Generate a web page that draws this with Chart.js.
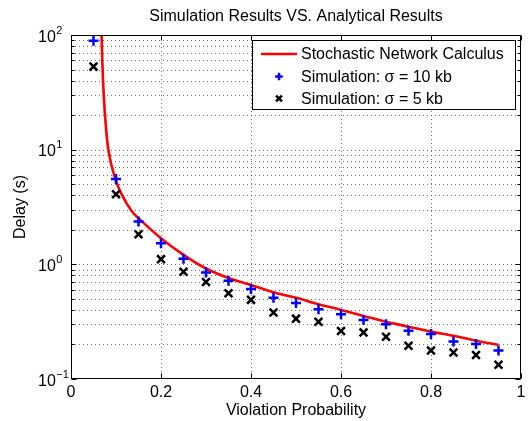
<!DOCTYPE html>
<html>
<head>
<meta charset="utf-8">
<script src="https://cdn.jsdelivr.net/npm/chart.js@4.4.1/dist/chart.umd.min.js"></script>
<style>
html,body{margin:0;padding:0;background:#fff;}
#wrap{width:531px;height:421px;}
</style>
</head>
<body>
<div id="wrap"><canvas id="c" width="531" height="421"></canvas></div>
<script>
// ---- data ----
const titleText = 'Simulation Results VS. Analytical Results';
const xAxisLabel = 'Violation Probability';
const yAxisLabel = 'Delay (s)';
const seriesNames = ['Stochastic Network Calculus', 'Simulation: \u03c3 = 10 kb', 'Simulation: \u03c3 = 5 kb'];

const probs = [0.05, 0.10, 0.15, 0.20, 0.25, 0.30, 0.35, 0.40, 0.45, 0.50,
               0.55, 0.60, 0.65, 0.70, 0.75, 0.80, 0.85, 0.90, 0.95];
const sim10 = [89, 5.55, 2.36, 1.53, 1.12, 0.85, 0.72, 0.61, 0.51, 0.46,
               0.406, 0.367, 0.327, 0.30, 0.264, 0.247, 0.212, 0.202, 0.177];
const sim5  = [53, 4.08, 1.83, 1.11, 0.86, 0.70, 0.56, 0.49, 0.38, 0.336,
               0.316, 0.262, 0.255, 0.234, 0.195, 0.177, 0.170, 0.162, 0.133];

const calcX = [0.068, 0.0696, 0.0727, 0.0778, 0.083, 0.099, 0.113, 0.135, 0.157, 0.20,
               0.25, 0.30, 0.35, 0.40, 0.45, 0.50, 0.55, 0.60, 0.65, 0.70, 0.75, 0.80, 0.85, 0.90, 0.95];
const calcY = [100, 59, 30.2, 15.5, 10, 5.47, 4.05, 2.90, 2.38, 1.69,
               1.21, 0.92, 0.76, 0.66, 0.57, 0.51, 0.449, 0.40, 0.355, 0.316, 0.286, 0.259, 0.238, 0.216, 0.198];

const xTicks = [0, 0.2, 0.4, 0.6, 0.8, 1];
const xTickLabels = ['0', '0.2', '0.4', '0.6', '0.8', '1'];
const yDecades = [0.1, 1, 10, 100];
const yExponents = ['\u22121', '0', '1', '2'];

// ---- helpers ----
const FONT = "'Liberation Sans', Arial, Helvetica, sans-serif";
const xMin = 0, xMax = 1, yMin = 0.1, yMax = 100;
const yGridValues = [];
for (let i = 0; i < yDecades.length - 1; i++) {
  for (let m = 1; m <= 9; m++) yGridValues.push(yDecades[i] * m);
}
yGridValues.push(yDecades[yDecades.length - 1]);

const toXY = (xs, ys) => xs.map((v, i) => ({x: v, y: ys[i]}));

const axesPlugin = {
  id: 'matlabAxes',
  beforeDatasetsDraw(chart) {
    const {ctx, chartArea: a, scales: {x, y}} = chart;
    ctx.save();
    ctx.strokeStyle = 'rgba(0,0,0,0.55)';
    ctx.lineWidth = 1;
    ctx.setLineDash([1, 3]);
    xTicks.forEach(v => {
      if (v <= xMin || v >= xMax) return;
      const px = Math.round(x.getPixelForValue(v)) + 0.5;
      ctx.beginPath(); ctx.moveTo(px, a.top); ctx.lineTo(px, a.bottom); ctx.stroke();
    });
    yGridValues.forEach(v => {
      if (v <= yMin * 1.0001 || v >= yMax * 0.9999) return;
      const py = Math.round(y.getPixelForValue(v)) + 0.5;
      ctx.beginPath(); ctx.moveTo(a.left, py); ctx.lineTo(a.right, py); ctx.stroke();
    });
    ctx.restore();
  },
  afterDatasetsDraw(chart) {
    const {ctx, chartArea: a, scales: {x, y}} = chart;
    const L = Math.round(a.left) + 0.5, R = Math.round(a.right) - 0.5;
    const T = Math.round(a.top) + 0.5, B = Math.round(a.bottom) - 0.5;
    ctx.save();
    ctx.strokeStyle = '#000';
    ctx.lineWidth = 1;
    ctx.setLineDash([]);
    ctx.strokeRect(L, T, R - L, B - T);
    // tick marks (inside)
    ctx.beginPath();
    xTicks.forEach(v => {
      const px = Math.round(x.getPixelForValue(v)) + 0.5;
      ctx.moveTo(px, B); ctx.lineTo(px, B - 5);
      ctx.moveTo(px, T); ctx.lineTo(px, T + 5);
    });
    yGridValues.forEach(v => {
      const major = yDecades.some(d => Math.abs(d - v) / d < 1e-6);
      const len = major ? 5 : 3;
      const py = Math.round(y.getPixelForValue(v)) + 0.5;
      ctx.moveTo(L, py); ctx.lineTo(L + len, py);
      ctx.moveTo(R, py); ctx.lineTo(R - len, py);
    });
    ctx.stroke();
    // y tick labels 10^n
    ctx.fillStyle = '#000';
    ctx.textAlign = 'left';
    ctx.textBaseline = 'alphabetic';
    yDecades.forEach((d, i) => {
      const py = y.getPixelForValue(d);
      ctx.font = '16px ' + FONT;
      const baseX = 38;
      ctx.fillText('10', baseX, py + 6.5);
      const w = ctx.measureText('10').width;
      ctx.font = '11px ' + FONT;
      ctx.fillText(yExponents[i], baseX + w + 0.5, py - 1.5);
    });
    // title centred over the axes
    ctx.font = '16px ' + FONT;
    ctx.textAlign = 'center';
    ctx.textBaseline = 'middle';
    ctx.fillText(titleText, (a.left + a.right) / 2, 17);
    ctx.restore();
  },
  afterDraw(chart) {
    const {ctx} = chart;
    const bx = 252.5, by = 40.5, bw = 263, bh = 69;
    const ds = chart.data.datasets;
    ctx.save();
    ctx.fillStyle = '#fff';
    ctx.fillRect(bx, by, bw, bh);
    ctx.strokeStyle = '#000';
    ctx.lineWidth = 1;
    ctx.strokeRect(bx, by, bw, bh);
    const rows = [54, 76.5, 98.5];
    // line sample
    ctx.strokeStyle = ds[0].borderColor;
    ctx.lineWidth = 2.5;
    ctx.beginPath(); ctx.moveTo(261, rows[0]); ctx.lineTo(297, rows[0]); ctx.stroke();
    // plus marker
    ctx.strokeStyle = ds[1].borderColor;
    ctx.fillStyle = ds[1].borderColor;
    Chart.helpers.drawPoint(ctx, {pointStyle: 'cross', radius: 3.8, borderWidth: 2.3, rotation: 0}, 279, rows[1]);
    // x marker
    ctx.strokeStyle = ds[2].borderColor;
    ctx.fillStyle = ds[2].borderColor;
    Chart.helpers.drawPoint(ctx, {pointStyle: 'crossRot', radius: 4.2, borderWidth: 2.3, rotation: 0}, 279, rows[2]);
    ctx.fillStyle = '#000';
    ctx.font = '16px ' + FONT;
    ctx.textAlign = 'left';
    ctx.textBaseline = 'middle';
    ds.forEach((d, i) => ctx.fillText(d.label, 301, rows[i] + 1));
    ctx.restore();
  }
};

const chart = new Chart(document.getElementById('c'), {
  type: 'scatter',
  data: {
    datasets: [
      {
        label: seriesNames[0],
        data: toXY(calcX, calcY),
        showLine: true,
        borderColor: 'rgb(255,0,0)',
        borderWidth: 2.6,
        pointRadius: 0,
        cubicInterpolationMode: 'monotone',
        order: 3
      },
      {
        label: seriesNames[1],
        data: toXY(probs, sim10),
        showLine: false,
        pointStyle: 'cross',
        pointRadius: 5,
        pointBorderWidth: 2.5,
        borderColor: 'rgb(0,0,255)',
        backgroundColor: 'rgb(0,0,255)',
        order: 2
      },
      {
        label: seriesNames[2],
        data: toXY(probs, sim5),
        showLine: false,
        pointStyle: 'crossRot',
        pointRadius: 5.5,
        pointBorderWidth: 2.5,
        borderColor: 'rgb(0,0,0)',
        backgroundColor: 'rgb(0,0,0)',
        order: 1
      }
    ]
  },
  options: {
    responsive: false,
    animation: false,
    devicePixelRatio: 1,
    layout: {padding: {left: 0, right: 10, top: 35, bottom: 0}},
    plugins: {
      legend: {display: false},
      tooltip: {enabled: false},
      title: {display: false}
    },
    scales: {
      x: {
        type: 'linear',
        min: xMin, max: xMax,
        afterBuildTicks: s => { s.ticks = xTicks.map(v => ({value: v})); },
        afterFit: s => { s.height = 42; },
        grid: {display: false, drawTicks: false},
        border: {display: false},
        ticks: {
          color: '#000',
          font: {family: FONT, size: 16, lineHeight: 1.2},
          padding: 4,
          maxRotation: 0,
          autoSkip: false,
          callback: (v, i) => xTickLabels[i]
        },
        title: {
          display: true,
          text: xAxisLabel,
          color: '#000',
          font: {family: FONT, size: 16, lineHeight: 1.2},
          padding: {top: 0, bottom: 1}
        }
      },
      y: {
        type: 'logarithmic',
        min: yMin, max: yMax,
        afterBuildTicks: s => { s.ticks = yGridValues.map(v => ({value: v})); },
        afterFit: s => { s.width = 71; },
        grid: {display: false, drawTicks: false},
        border: {display: false},
        ticks: {display: false},
        title: {
          display: true,
          text: yAxisLabel,
          color: '#000',
          font: {family: FONT, size: 16, lineHeight: 1.2},
          padding: {top: 11, bottom: 0}
        }
      }
    }
  },
  plugins: [axesPlugin]
});
</script>
</body>
</html>
